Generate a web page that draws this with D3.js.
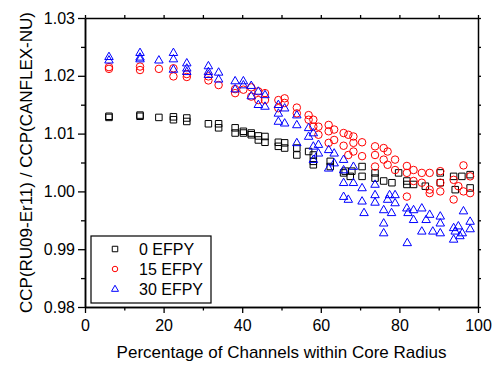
<!DOCTYPE html>
<html>
<head>
<meta charset="utf-8">
<script src="https://cdn.jsdelivr.net/npm/d3@7"></script>
<style>
  body { margin: 0; background: #fff; }
  svg text { font-family: Arial, 'Liberation Sans', sans-serif; fill: #000; }
</style>
</head>
<body>
<div id="chart"></div>
<script>
// [percentage of channels, CCP ratio]
const efpy0 = [
  [6.1, 1.0130], [6.1, 1.0128], [14, 1.0132], [14, 1.0130], [18.8, 1.0128],
  [22.5, 1.0129], [22.5, 1.0124], [25.9, 1.0127], [25.9, 1.0121],
  [31.4, 1.0117], [34, 1.0117], [34, 1.0110], [38.2, 1.0110], [38.2, 1.0101],
  [40.3, 1.0104], [40.3, 1.0101], [42.3, 1.0101], [42.3, 1.0098],
  [44.1, 1.0096], [44.1, 1.0089], [45.8, 1.0095], [45.8, 1.0085],
  [49.2, 1.0085], [49.2, 1.0078], [50.8, 1.0084], [50.8, 1.0075],
  [53.9, 1.0075], [53.9, 1.0063], [56.9, 1.0069], [58.1, 1.0063], [58.1, 1.0052],
  [58.1, 1.0046], [62.4, 1.0052], [62.4, 1.0043], [65.8, 1.0032], [66.2, 1.0035],
  [67.5, 1.0026], [67.9, 1.0035], [70.5, 1.0043], [70.5, 1.0026],
  [73.8, 1.0032], [73.8, 1.0023], [76, 1.0018], [78.1, 1.0015], [79.8, 1.0032],
  [81.9, 1.0012], [81.9, 1.0018], [83.6, 1.0012], [86.6, 1.0009],
  [90.4, 1.0032], [90.4, 1.0015], [93.8, 1.0026], [94.2, 1.0003],
  [95.9, 1.0026], [98, 1.0029], [98, 1.0006]
]
const efpy15 = [
  [6.1, 1.0212], [6.1, 1.0215], [14, 1.0216], [14, 1.0210], [18.8, 1.0212],
  [22.5, 1.0199], [22.5, 1.0213], [25.9, 1.0198], [25.9, 1.0203],
  [31.4, 1.0192], [31.4, 1.0199], [34, 1.0184], [38.2, 1.0170], [38.2, 1.0177],
  [40.3, 1.0176], [42.3, 1.0180], [42.3, 1.0164], [44.1, 1.0173], [44.1, 1.0158],
  [45.8, 1.0170], [45.8, 1.0158], [49.2, 1.0158], [49.2, 1.0144],
  [50.8, 1.0161], [50.8, 1.0153], [53.9, 1.0145], [53.9, 1.0135],
  [56.9, 1.0132], [56.9, 1.0124], [58.1, 1.0124], [58.1, 1.0112],
  [59.4, 1.0112], [59.4, 1.0098], [62, 1.0115], [62, 1.0104], [62, 1.0084],
  [63.4, 1.0107], [63.4, 1.0089], [65.8, 1.0101], [65.8, 1.0079],
  [67, 1.0098], [67, 1.0063], [68.3, 1.0095], [68.3, 1.0084], [68.3, 1.0069],
  [70.5, 1.0085], [70.5, 1.0061], [73.8, 1.0078], [73.8, 1.0063], [73.8, 1.0043],
  [76, 1.0075], [76, 1.0055], [77, 1.0069], [77, 1.0046],
  [78.9, 1.0055], [78.9, 1.0037], [81.9, 1.0044], [81.9, 1.0032], [81.9, 0.9991],
  [83.6, 1.0037], [83.6, 1.0018], [85.7, 1.0032], [85.7, 1.0015],
  [87.7, 1.0032], [87.7, 1.0003], [87.7, 0.9997],
  [90.4, 1.0035], [90.4, 1.0015], [90.4, 1.0000], [93.8, 1.0020], [93.8, 0.9986],
  [95, 1.0009], [96.3, 1.0045], [96.3, 1.0000], [98, 1.0026], [98, 0.9997]
]
const efpy30 = [
  [6.1, 1.0233], [6.1, 1.0227], [14, 1.0240], [14, 1.0232], [14, 1.0229],
  [18.8, 1.0227], [22.5, 1.0240], [22.5, 1.0229], [22.5, 1.0211],
  [25.9, 1.0222], [25.9, 1.0213], [25.9, 1.0207],
  [31.4, 1.0217], [31.4, 1.0207], [31.4, 1.0202], [34, 1.0206], [34, 1.0194],
  [38.2, 1.0191], [38.2, 1.0177], [40.3, 1.0191], [40.3, 1.0184],
  [42.3, 1.0183], [42.3, 1.0165], [44.1, 1.0173], [44.1, 1.0150],
  [45.8, 1.0167], [45.8, 1.0147], [49.2, 1.0150], [49.2, 1.0135], [49.2, 1.0121],
  [50.8, 1.0144], [50.8, 1.0118], [53.9, 1.0132], [53.9, 1.0115], [53.9, 1.0084],
  [56.9, 1.0110], [56.9, 1.0095], [58.1, 1.0101], [58.1, 1.0078], [58.1, 1.0055],
  [59.4, 1.0081], [59.4, 1.0066], [62, 1.0072], [62, 1.0040],
  [63.4, 1.0066], [63.4, 1.0049], [65.8, 1.0055], [65.8, 1.0037],
  [65.8, 1.0015], [65.8, 0.9991], [67, 0.9986], [68.3, 1.0043], [68.3, 1.0015],
  [70.5, 1.0006], [70.5, 0.9983], [71, 0.9963],
  [73.8, 1.0012], [73.8, 0.9994], [73.8, 0.9981],
  [76, 0.9968], [76, 0.9945], [76, 0.9928], [77, 0.9986], [77.5, 0.9994],
  [78.9, 0.9994], [78.9, 0.9980], [78, 0.9963],
  [81.9, 0.9971], [82.2, 0.9963], [82, 0.9911], [83.6, 0.9951], [83.6, 0.9968],
  [85.7, 0.9971], [85.7, 0.9931], [86.8, 0.9951], [87.7, 0.9960], [88.5, 0.9931],
  [90.4, 0.9957], [90.4, 0.9945], [90.4, 0.9928],
  [93.8, 0.9937], [93.8, 0.9917], [94.2, 0.9931], [95, 0.9940], [95.4, 0.9923],
  [96.3, 0.9966], [96, 0.9928], [98, 0.9948], [98, 0.9935]
]

const seriesNames = ['0 EFPY', '15 EFPY', '30 EFPY']
const seriesColors = ['#000000', '#ff0000', '#0000ff']
const seriesShapes = ['square', 'circle', 'triangle']
const xTicks = [0, 20, 40, 60, 80, 100]
const yTicks = [0.98, 0.99, 1.00, 1.01, 1.02, 1.03]

var margin = { top: 18, right: 18, bottom: 58, left: 85 }
var svgWidth = 496, svgHeight = 365
var width = svgWidth - margin.left - margin.right
var height = svgHeight - margin.top - margin.bottom

var svg = d3.select('#chart')
  .append('svg')
  .attr('width', svgWidth)
  .attr('height', svgHeight)

var g = svg.append('g')
  .attr('transform', `translate(${margin.left}, ${margin.top})`)

var xScale = d3.scaleLinear().domain([0, 100]).range([0, width])
var yScale = d3.scaleLinear().domain([0.98, 1.03]).range([height, 0])

// symbols drawn as paths centred on 0,0
function shapePath(shape, s) {
  if (shape === 'square') return d3.symbol(d3.symbolSquare, s * s)()
  if (shape === 'circle') return d3.symbol(d3.symbolCircle, Math.PI * (s / 2) * (s / 2))()
  const h = s * 0.87
  return `M0,${-h * 0.62}L${s / 2},${h * 0.38}L${-s / 2},${h * 0.38}Z`
}
const markerSize = { square: 6.5, circle: 7.5, triangle: 8.5 }

const allSeries = [efpy0, efpy15, efpy30]
allSeries.forEach((data, i) => {
  g.append('g')
    .selectAll('path')
    .data(data)
    .enter()
    .append('path')
    .attr('d', shapePath(seriesShapes[i], markerSize[seriesShapes[i]]))
    .attr('transform', d => `translate(${xScale(d[0])}, ${yScale(d[1])})`)
    .attr('fill', 'none')
    .attr('stroke', seriesColors[i])
    .attr('stroke-width', 1)
})

// axes
function styleAxis(sel) {
  sel.selectAll('.tick line').attr('stroke', '#000').attr('stroke-width', 1.3)
  sel.select('.domain').attr('stroke', '#000').attr('stroke-width', 1.5)
  sel.selectAll('.tick text').style('font-size', '16px')
}

var xAxis = g.append('g')
  .attr('transform', `translate(0, ${height})`)
  .call(d3.axisBottom(xScale).tickValues(xTicks).tickSize(6).tickPadding(5).tickSizeOuter(0))
  .call(styleAxis)
xAxis.selectAll('.tick text').attr('dy', '0.8em')

g.append('g')
  .attr('transform', `translate(0, ${height})`)
  .call(d3.axisBottom(xScale).tickValues([10, 30, 50, 70, 90]).tickSize(3.5).tickFormat('').tickSizeOuter(0))
  .call(styleAxis)

g.append('g')
  .call(d3.axisLeft(yScale).tickValues(yTicks).tickSize(7).tickPadding(3).tickSizeOuter(0)
    .tickFormat(d3.format('.2f')))
  .call(styleAxis)

g.append('g')
  .call(d3.axisLeft(yScale).tickValues([0.985, 0.995, 1.005, 1.015, 1.025]).tickSize(4).tickFormat('').tickSizeOuter(0))
  .call(styleAxis)

// top and right frame with small outward ticks
g.append('g')
  .call(d3.axisTop(xScale).tickValues(d3.range(0, 101, 10)).tickSize(3).tickFormat('').tickSizeOuter(0))
  .call(styleAxis)
g.append('g')
  .attr('transform', `translate(${width}, 0)`)
  .call(d3.axisRight(yScale).tickValues(d3.range(0.98, 1.0301, 0.005)).tickSize(3).tickFormat('').tickSizeOuter(0))
  .call(styleAxis)

// axis titles
svg.append('text')
  .attr('x', margin.left + width / 2)
  .attr('y', 358)
  .attr('text-anchor', 'middle')
  .style('font-size', '17px')
  .text('Percentage of Channels within Core Radius')

svg.append('text')
  .attr('transform', `translate(32, ${margin.top + height / 2}) rotate(-90)`)
  .attr('text-anchor', 'middle')
  .style('font-size', '17px')
  .text('CCP(RU09-Er11) / CCP(CANFLEX-NU)')

// legend
var legend = svg.append('g').attr('transform', 'translate(91, 236)')
legend.append('rect')
  .attr('width', 120)
  .attr('height', 67)
  .attr('fill', '#fff')
  .attr('stroke', '#000')
  .attr('stroke-width', 1.2)

seriesNames.forEach((name, i) => {
  var row = legend.append('g').attr('transform', `translate(0, ${13 + i * 20})`)
  row.append('path')
    .attr('d', shapePath(seriesShapes[i], seriesShapes[i] === 'triangle' ? 7 : 5.5))
    .attr('transform', 'translate(24, 0)')
    .attr('fill', 'none')
    .attr('stroke', seriesColors[i])
    .attr('stroke-width', 1)
  row.append('text')
    .attr('x', 48)
    .attr('y', 0)
    .attr('dy', '0.35em')
    .style('font-size', '16px')
    .text(name)
})
</script>
</body>
</html>
